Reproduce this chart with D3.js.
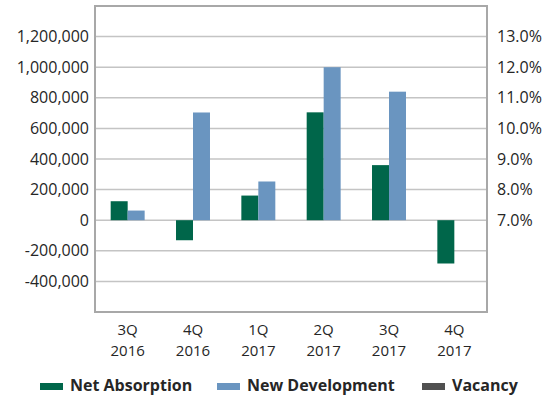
<!DOCTYPE html>
<html lang="en">
<head>
  <meta charset="UTF-8" />
  <title>Net Absorption vs New Development</title>
  <style>
    body { margin: 0; background: #fff; font-family: "Open Sans", Arial, sans-serif; }
    svg text { fill: #262626; }
  </style>
</head>
<body>
  <div id="chart"></div>
  <script src="https://d3js.org/d3.v7.min.js"></script>
  <script>
    // data
    const quarters = ["3Q 2016", "4Q 2016", "1Q 2017", "2Q 2017", "3Q 2017", "4Q 2017"];
    const netAbsorption = [124000, -131000, 161000, 705000, 360000, -283000];
    const newDevelopment = [63000, 704000, 253000, 1000000, 840000, 0];
    const vacancy = [null, null, null, null, null, null]; // no values shown
    const leftTicks = [-400000, -200000, 0, 200000, 400000, 600000, 800000, 1000000, 1200000];
    const rightTicks = [0.07, 0.08, 0.09, 0.10, 0.11, 0.12, 0.13];

    const series = [
      { name: "Net Absorption", values: netAbsorption, color: "#00664a" },
      { name: "New Development", values: newDevelopment, color: "#6a95c0" }
    ];
    const legendItems = [
      { name: "Net Absorption", color: "#00664a", x: 40 },
      { name: "New Development", color: "#6a95c0", x: 217 },
      { name: "Vacancy", color: "#505050", x: 422 }
    ];

    const W = 545, H = 395;
    const plot = { left: 95, right: 487, top: 6, bottom: 312 };

    const svg = d3.select("#chart").append("svg")
      .attr("width", W)
      .attr("height", H);

    const x0 = d3.scaleBand()
      .domain(quarters)
      .range([plot.left, plot.right])
      .paddingInner(0.48)
      .paddingOuter(0.24);

    const x1 = d3.scaleBand()
      .domain(series.map(s => s.name))
      .range([0, x0.bandwidth()]);

    const y = d3.scaleLinear()
      .domain([-600000, 1400000])
      .range([plot.bottom, plot.top]);

    // secondary axis: 7% lines up with 0, 13% with 1,200,000
    const y2 = d3.scaleLinear()
      .domain([0.04, 0.14])
      .range([plot.bottom, plot.top]);

    const fmtNum = d => d3.format(",")(d).replace("\u2212", "-");

    // gridlines
    svg.append("g")
      .selectAll("line")
      .data(leftTicks)
      .join("line")
      .attr("x1", plot.left)
      .attr("x2", plot.right)
      .attr("y1", d => y(d))
      .attr("y2", d => y(d))
      .attr("stroke", "#c4c4c4")
      .attr("stroke-width", 1.5);

    // bars
    series.forEach(s => {
      svg.append("g")
        .selectAll("rect")
        .data(s.values.map((v, i) => ({ q: quarters[i], v })))
        .join("rect")
        .attr("x", d => x0(d.q) + x1(s.name))
        .attr("width", x1.bandwidth())
        .attr("y", d => y(Math.max(0, d.v)))
        .attr("height", d => Math.abs(y(d.v) - y(0)))
        .attr("fill", s.color);
    });

    // frame
    svg.append("rect")
      .attr("x", plot.left)
      .attr("y", plot.top)
      .attr("width", plot.right - plot.left)
      .attr("height", plot.bottom - plot.top)
      .attr("fill", "none")
      .attr("stroke", "#a8a8a8")
      .attr("stroke-width", 2);

    // left axis
    const leftAxis = svg.append("g")
      .attr("transform", `translate(${plot.left - 6},0)`)
      .call(d3.axisLeft(y).tickValues(leftTicks).tickSize(0).tickPadding(0)
        .tickFormat(fmtNum));
    leftAxis.select(".domain").remove();
    leftAxis.selectAll("text")
      .attr("font-family", "'Open Sans', Arial, sans-serif")
      .attr("font-size", 16)
      .style("fill", "#262626");

    // right axis
    const rightAxis = svg.append("g")
      .attr("transform", `translate(${plot.right + 10},0)`)
      .call(d3.axisRight(y2).tickValues(rightTicks).tickSize(0).tickPadding(0)
        .tickFormat(d3.format(".1%")));
    rightAxis.select(".domain").remove();
    rightAxis.selectAll("text")
      .attr("font-family", "'Open Sans', Arial, sans-serif")
      .attr("font-size", 16)
      .style("fill", "#262626");

    // category labels, two lines each
    const catG = svg.append("g")
      .attr("font-size", 15)
      .attr("text-anchor", "middle");
    [0, 1].forEach(line => {
      catG.append("g")
        .selectAll("text")
        .data(quarters)
        .join("text")
        .attr("x", d => x0(d) + x0.bandwidth() / 2)
        .attr("y", line === 0 ? 335 : 356)
        .text(d => d.split(" ")[line]);
    });

    // legend
    const legend = svg.append("g");
    legend.selectAll("rect")
      .data(legendItems)
      .join("rect")
      .attr("x", d => d.x)
      .attr("y", 383)
      .attr("width", 23)
      .attr("height", 7)
      .attr("fill", d => d.color);
    legend.selectAll("text")
      .data(legendItems)
      .join("text")
      .attr("x", d => d.x + 30)
      .attr("y", 391)
      .attr("font-size", 16)
      .attr("font-weight", "bold")
      .text(d => d.name);
  </script>
</body>
</html>
